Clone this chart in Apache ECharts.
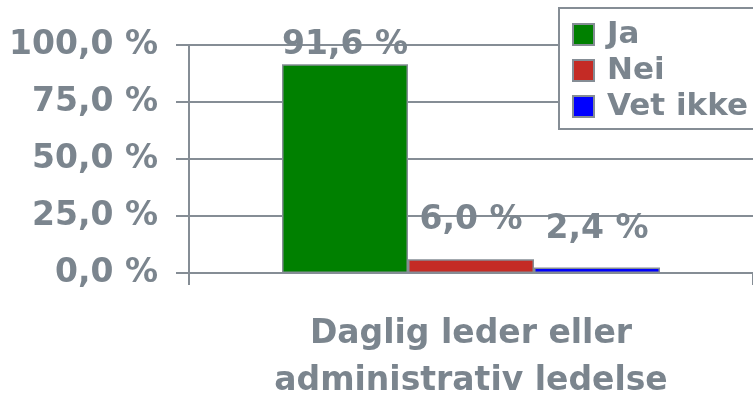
<!DOCTYPE html>
<html>
<head>
<meta charset="utf-8">
<script src="https://cdn.jsdelivr.net/npm/echarts@6/dist/echarts.min.js"></script>
<style>
  html, body { margin: 0; padding: 0; background: #fff; }
  #chart { width: 753px; height: 405px; }
</style>
</head>
<body>
<div id="chart"></div>
<script>
// data
var categories = ['Daglig leder eller\nadministrativ ledelse'];
var seriesNames = ['Ja', 'Nei', 'Vet ikke'];
var seriesValues = [[91.6], [6.0], [2.4]];
var seriesColors = ['#008000', '#c42b25', '#0000ff'];
var labelDistances = [2, 22, 22];
var yTicks = { min: 0, max: 100, interval: 25 };

var grey = '#7b858e';
var lineGrey = '#858d95';
var font = 'DejaVu Sans';

function pct(v) {
  return v.toFixed(1).replace('.', ',') + ' %';
}

var chart = echarts.init(document.getElementById('chart'), null, { renderer: 'canvas' });

var series = seriesNames.map(function(name, i) {
  return {
    name: name,
    type: 'bar',
    barWidth: 126,
    barGap: '0%',
    itemStyle: { color: seriesColors[i], borderColor: lineGrey, borderWidth: 1.5 },
    label: {
      show: true,
      position: 'top',
      distance: labelDistances[i],
      formatter: function(p) { return pct(p.value); },
      color: grey,
      fontFamily: font,
      fontWeight: 'bold',
      fontSize: 33
    },
    data: seriesValues[i]
  };
});

chart.setOption({
  animation: false,
  backgroundColor: '#fff',
  // legend frame runs off the right edge like in the original
  graphic: [{
    type: 'rect',
    left: 558,
    top: 7,
    z: 3,
    shape: { width: 260, height: 121 },
    style: { fill: '#fff', stroke: lineGrey, lineWidth: 2 }
  }],
  legend: {
    orient: 'vertical',
    left: 559,
    top: 8,
    z: 4,
    padding: [11, 10, 4, 13],
    itemWidth: 21,
    itemHeight: 21,
    itemGap: 5,
    icon: 'rect',
    textStyle: {
      color: grey,
      fontFamily: font,
      fontWeight: 'bold',
      fontSize: 31,
      padding: [0, 0, 0, 8]
    },
    data: seriesNames
  },
  grid: { left: 189, right: -1, top: 45, bottom: 129, containLabel: false },
  xAxis: {
    type: 'category',
    data: categories,
    axisLine: { lineStyle: { color: lineGrey, width: 2 } },
    axisTick: { show: true, length: 12, lineStyle: { color: lineGrey, width: 2 } },
    axisLabel: {
      margin: 38,
      color: grey,
      fontFamily: font,
      fontWeight: 'bold',
      fontSize: 33,
      lineHeight: 47
    }
  },
  yAxis: {
    type: 'value',
    min: yTicks.min,
    max: yTicks.max,
    interval: yTicks.interval,
    axisLine: { show: true, lineStyle: { color: lineGrey, width: 2 } },
    axisTick: { show: true, length: 13, lineStyle: { color: lineGrey, width: 2 } },
    splitLine: { lineStyle: { color: lineGrey, width: 2 } },
    axisLabel: {
      margin: 31,
      color: grey,
      fontFamily: font,
      fontWeight: 'bold',
      fontSize: 33,
      formatter: pct
    }
  },
  series: series
});
</script>
</body>
</html>
